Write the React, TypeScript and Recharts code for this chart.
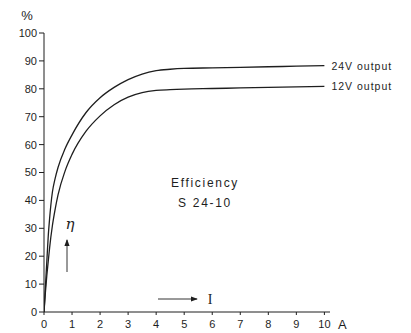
import { LineChart, Line, XAxis, YAxis, LabelList } from "recharts"

const current = [0, 0.05, 0.1, 0.15, 0.2, 0.3, 0.4, 0.5, 0.75, 1, 1.5, 2, 2.5, 3, 3.5, 4, 4.5, 5, 6, 7, 8, 9, 10]
const eff24 = [0, 9, 18, 27, 33.5, 43, 48, 51.8, 58.5, 63.5, 71.5, 76.8, 80.5, 83.3, 85.3, 86.5, 87.0, 87.3, 87.5, 87.7, 87.9, 88.1, 88.3]
const eff12 = [0, 7, 13, 18, 23, 31, 37, 42, 50.5, 56.5, 64.8, 70.3, 74.3, 77.0, 78.6, 79.4, 79.7, 79.9, 80.1, 80.3, 80.5, 80.7, 80.9]
const xTicks = [0, 1, 2, 3, 4, 5, 6, 7, 8, 9, 10]
const yTicks = [0, 10, 20, 30, 40, 50, 60, 70, 80, 90, 100]
const seriesNames = { v24: "24V output", v12: "12V output" }

const data = current.map((c, i) => ({ i: c, v24: eff24[i], v12: eff12[i] }))

const ink = "#1e1e1e"
const font = "'Liberation Sans', Arial, sans-serif"

function endLabel(name: string) {
  return (props: any) => {
    const { x, y, index } = props
    if (index !== data.length - 1) return null
    return (
      <text x={x + 7} y={y + 4} fontSize={10.5} fill={ink} fontFamily={font} letterSpacing={1}>
        {name}
      </text>
    )
  }
}

export default function App() {
  return (
    <div style={{ position: "absolute", left: 0, top: 0, width: 411, height: 333, background: "#fff" }}>
      <LineChart
        width={411}
        height={333}
        data={data}
        margin={{ top: 33, right: 81, left: 0, bottom: 1 }}
      >
        <XAxis
          dataKey="i"
          type="number"
          domain={[0, 10.2]}
          ticks={xTicks}
          allowDataOverflow
          stroke={ink}
          tick={{ fill: ink, fontSize: 11, fontFamily: font }}
          tickSize={3}
          tickMargin={5}
          height={20}
        />
        <YAxis
          type="number"
          domain={[0, 100]}
          ticks={yTicks}
          stroke={ink}
          tick={{ fill: ink, fontSize: 11, fontFamily: font }}
          tickSize={5}
          tickMargin={2}
          width={44}
        />
        <Line
          dataKey="v24"
          type="monotone"
          stroke={ink}
          strokeWidth={1.3}
          dot={false}
          isAnimationActive={false}
        >
          <LabelList dataKey="v24" content={endLabel(seriesNames.v24)} />
        </Line>
        <Line
          dataKey="v12"
          type="monotone"
          stroke={ink}
          strokeWidth={1.3}
          dot={false}
          isAnimationActive={false}
        >
          <LabelList dataKey="v12" content={endLabel(seriesNames.v12)} />
        </Line>
      </LineChart>
      <svg
        width={411}
        height={333}
        style={{ position: "absolute", left: 0, top: 0, pointerEvents: "none" }}
      >
        <defs>
          <marker id="ah" markerWidth="8" markerHeight="6" refX="7" refY="3" orient="auto">
            <path d="M0,0 L8,3 L0,6 z" fill={ink} />
          </marker>
        </defs>
        <text x={27} y={20} fontSize={13} fill={ink} fontFamily={font} textAnchor="middle">%</text>
        <text x={338} y={329} fontSize={13} fill={ink} fontFamily={font}>A</text>
        <text x={205} y={187} fontSize={12} fill={ink} fontFamily={font} textAnchor="middle" letterSpacing={1.7}>Efficiency</text>
        <text x={205} y={207} fontSize={12} fill={ink} fontFamily={font} textAnchor="middle" letterSpacing={1.7}>S 24-10</text>
        <line x1={67} y1={272} x2={67} y2={240} stroke={ink} strokeWidth={0.9} markerEnd="url(#ah)" />
        <text x={70} y={229} fontSize={15} fill={ink} fontFamily="'DejaVu Serif', serif" textAnchor="middle" fontStyle="italic">η</text>
        <line x1={158} y1={299} x2={197} y2={299} stroke={ink} strokeWidth={0.9} markerEnd="url(#ah)" />
        <text x={210} y={304} fontSize={14} fill={ink} fontFamily="'Liberation Serif', serif" textAnchor="middle">I</text>
      </svg>
    </div>
  )
}
